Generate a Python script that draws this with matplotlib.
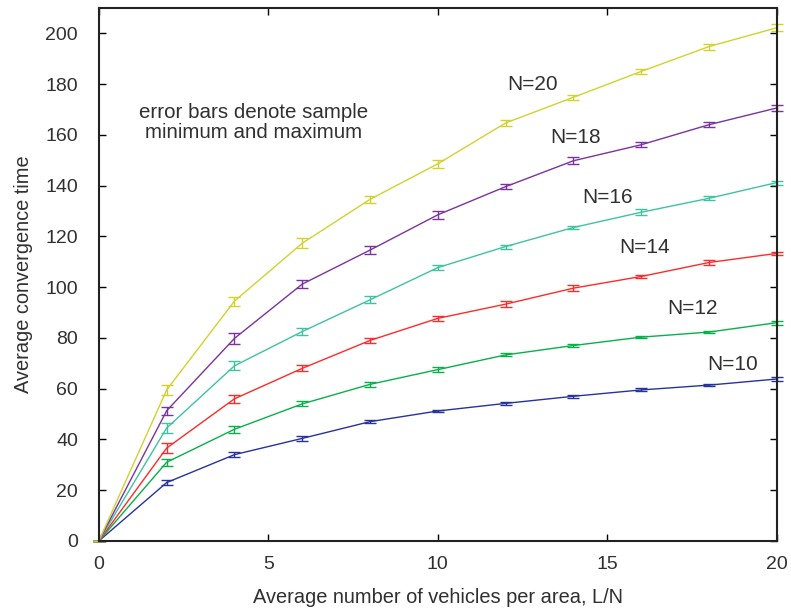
import matplotlib
matplotlib.use("Agg")
import matplotlib.pyplot as plt
import numpy as np

plt.rcParams['font.family'] = ['Liberation Sans', 'DejaVu Sans']

x = [0, 2, 4, 6, 8, 10, 12, 14, 16, 18, 20]

# mean, min, max for each N
n20_mean = [0, 59.5, 94.5, 117.3, 134.6, 148.6, 164.7, 174.8, 185.0, 194.8, 202.2]
n20_min = [0, 57.5, 92.6, 115.4, 133.3, 147.1, 163.4, 173.6, 184.1, 193.6, 200.9]
n20_max = [0, 61.4, 96.2, 119.3, 136.0, 150.0, 166.0, 175.9, 186.0, 196.0, 203.5]

n18_mean = [0, 51.3, 79.8, 101.2, 114.6, 128.5, 139.6, 149.8, 156.1, 164.0, 170.6]
n18_min = [0, 49.6, 77.6, 99.5, 113.0, 127.0, 138.6, 148.4, 155.2, 163.1, 169.4]
n18_max = [0, 52.9, 82.0, 103.0, 116.3, 130.0, 140.6, 151.3, 157.0, 165.0, 171.8]

n16_mean = [0, 44.5, 69.0, 82.5, 95.0, 107.7, 116.0, 123.5, 129.5, 135.0, 141.2]
n16_min = [0, 42.5, 67.3, 81.0, 93.6, 106.7, 115.2, 122.8, 128.5, 134.2, 140.3]
n16_max = [0, 46.6, 71.0, 84.0, 96.6, 108.7, 116.8, 124.1, 130.6, 135.8, 142.0]

n14_mean = [0, 36.6, 56.0, 68.0, 79.0, 87.7, 93.3, 99.6, 104.2, 109.7, 113.3]
n14_min = [0, 34.6, 54.5, 66.9, 77.8, 86.6, 92.2, 98.5, 103.5, 108.8, 112.7]
n14_max = [0, 38.7, 57.5, 69.3, 80.0, 88.7, 94.5, 100.7, 104.9, 110.6, 113.8]

n12_mean = [0, 31.0, 44.0, 54.0, 61.7, 67.5, 73.3, 77.0, 80.3, 82.3, 86.0]
n12_min = [0, 29.5, 42.5, 53.1, 60.7, 66.4, 72.8, 76.5, 79.8, 81.8, 85.2]
n12_max = [0, 32.3, 45.3, 55.0, 62.7, 68.6, 73.9, 77.6, 80.8, 82.8, 86.7]

n10_mean = [0, 23.0, 34.0, 40.4, 47.0, 51.2, 54.2, 57.0, 59.5, 61.4, 63.8]
n10_min = [0, 22.0, 33.0, 39.5, 46.3, 50.7, 53.5, 56.4, 58.9, 60.9, 63.1]
n10_max = [0, 24.0, 35.0, 41.3, 47.6, 51.6, 54.8, 57.5, 60.1, 61.9, 64.4]

series_labels = ["N=20", "N=18", "N=16", "N=14", "N=12", "N=10"]
colors = ["#d2d22e", "#7a33a0", "#3ec3a0", "#ff2a2a", "#08b04a", "#27339a"]
label_pos = [(12.8, 180), (14.05, 159), (15.0, 135.4), (16.1, 115.7), (17.5, 91.7), (18.7, 69.7)]

means = [n20_mean, n18_mean, n16_mean, n14_mean, n12_mean, n10_mean]
mins = [n20_min, n18_min, n16_min, n14_min, n12_min, n10_min]
maxs = [n20_max, n18_max, n16_max, n14_max, n12_max, n10_max]

txt = "#303030"
fs = 14

fig = plt.figure(figsize=(7.91, 6.14), dpi=100)
ax = fig.add_axes([0.125, 0.119, 0.857, 0.868])

for m, lo, hi, c in zip(means[::-1], mins[::-1], maxs[::-1], colors[::-1]):
    m = np.array(m); lo = np.array(lo); hi = np.array(hi)
    ax.errorbar(x, m, yerr=[m - lo, hi - m], color=c, lw=1.0, elinewidth=1.0,
                capsize=4.5, capthick=1.0, clip_on=False)

for lab, (lx, ly) in zip(series_labels, label_pos):
    ax.text(lx, ly, lab, fontsize=15, color=txt, ha="center", va="center")

ax.text(4.55, 165, "error bars denote sample\nminimum and maximum", fontsize=14.8,
        color=txt, ha="center", va="center", linespacing=1.05)

ax.set_xlim(0, 20)
ax.set_ylim(0, 210)
ax.set_xticks([0, 5, 10, 15, 20])
ax.set_yticks(range(0, 201, 20))
ax.tick_params(direction="in", length=5, width=1.0, top=True, right=True,
               labelsize=fs, labelcolor=txt)
ax.tick_params(axis="x", pad=11)
ax.tick_params(axis="y", pad=15)
for s in ax.spines.values():
    s.set_linewidth(1.5)
    s.set_color("#222222")
ax.set_xlabel("Average number of vehicles per area, L/N", fontsize=14.4, color=txt, labelpad=11)
ax.set_ylabel("Average convergence time", fontsize=14.4, color=txt, labelpad=9)

fig.savefig("out.png", dpi=100)
